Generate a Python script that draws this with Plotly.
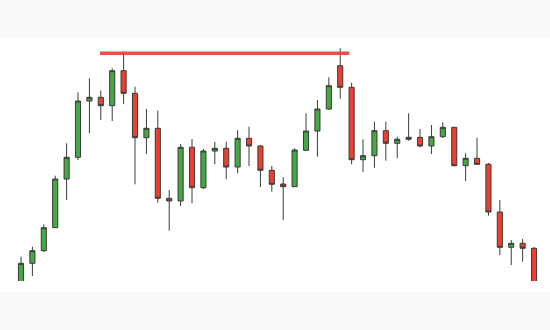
import plotly.graph_objects as go

idx = list(range(46))
opens = [8, 36.7, 49.3, 72.3, 121, 142.7, 199, 202.7, 194.3, 229.3,
         206.7, 162.3, 171.7, 101.7, 99, 152.7, 112.3, 149, 151.7, 133,
         161.7, 154, 129.7, 116, 113.3, 149.7, 169, 191, 234.3, 212.7,
         140.3, 144.3, 169.3, 156.7, 160.7, 162.7, 154, 163.3, 172.7, 134.3,
         141.7, 135.7, 88, 52.7, 56.7, 51.7]
closes = [36.7, 49.3, 72.3, 121, 142.7, 199, 202.7, 194.3, 229.3, 206.7,
          162.3, 171.7, 101.7, 99, 152.7, 112.3, 149, 151.7, 133, 161.7,
          154, 129.7, 115.7, 113.3, 150, 169, 191, 214.3, 212.7, 140.3,
          144.3, 169.3, 156.7, 160.7, 162.7, 154, 163.3, 172.7, 134.3, 141.7,
          135.7, 88, 52.7, 56.7, 51.7, 8]
highs = [43.3, 53.3, 75.7, 124.3, 156.7, 207.7, 221.7, 209.3, 231.7, 248.3,
         213.3, 191, 189.3, 110, 156, 161, 151, 158.3, 158.3, 170,
         173.3, 155, 134, 122.7, 151.7, 186.7, 200, 222.7, 251.7, 217.3,
         160.7, 178.3, 178.3, 163.3, 186.7, 171, 175, 177.7, 173, 146.7,
         162.3, 137, 100, 60, 61, 53]
lows = [5, 24, 48, 72, 100, 140, 166.7, 180, 179, 196,
        115.7, 146, 97.3, 69.3, 94, 96.7, 111, 135.7, 120.7, 126.7,
        134, 113, 108.3, 80, 113, 149, 143.3, 190, 201.3, 135.7,
        128, 132.3, 139.3, 141.7, 159.3, 152.7, 146, 162, 133.7, 119,
        135, 84.3, 45, 35, 38.3, 5]

resistance_level = 246.7
resistance_start = 6.93
resistance_end = 28.8

fig = go.Figure(go.Candlestick(
    x=idx, open=opens, high=highs, low=lows, close=closes,
    increasing=dict(fillcolor="#45a845", line=dict(color="#3a3a3a", width=1)),
    decreasing=dict(fillcolor="#ec3f30", line=dict(color="#3a3a3a", width=1)),
    whiskerwidth=0, hoverinfo="skip", showlegend=False,
))

fig.add_shape(type="rect", xref="paper", yref="paper",
              x0=0, x1=1, y0=-0.0453, y1=1.0, fillcolor="white",
              line=dict(width=0), layer="below")
fig.add_shape(type="line", xref="x", yref="y",
              x0=resistance_start, x1=resistance_end,
              y0=resistance_level, y1=resistance_level,
              line=dict(color="rgba(234,60,50,0.9)", width=3.5))

fig.update_layout(
    width=550, height=330,
    margin=dict(l=0, r=0, t=38, b=49),
    paper_bgcolor="#f9f9f9", plot_bgcolor="white",
    boxgap=0.36,
    xaxis=dict(range=[-1.842, 46.4], visible=False, rangeslider=dict(visible=False),
               fixedrange=True),
    yaxis=dict(range=[19, 262], visible=False, fixedrange=True),
)

fig.write_html("out.html")
